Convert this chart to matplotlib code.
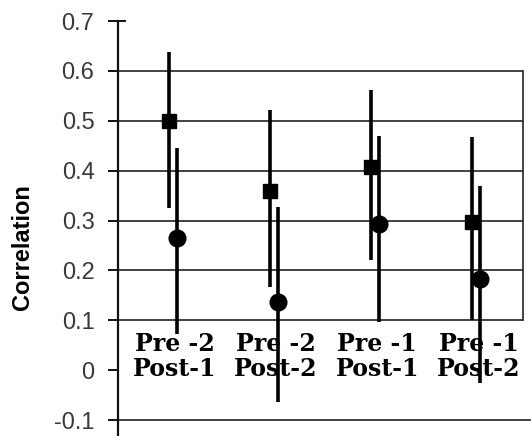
import matplotlib
matplotlib.use("Agg")
import matplotlib.pyplot as plt

# Data
categories = [("Pre -2", "Post-1"), ("Pre -2", "Post-2"), ("Pre -1", "Post-1"), ("Pre -1", "Post-2")]
sq_val = [0.50, 0.36, 0.407, 0.298]
sq_hi = [0.638, 0.522, 0.562, 0.468]
sq_lo = [0.326, 0.166, 0.22, 0.10]
ci_val = [0.265, 0.136, 0.294, 0.182]
ci_hi = [0.446, 0.328, 0.469, 0.37]
ci_lo = [0.072, -0.064, 0.096, -0.026]
yticks = [-0.1, 0, 0.1, 0.2, 0.3, 0.4, 0.5, 0.6, 0.7]
ytick_labels = ["-0.1", "0", "0.1", "0.2", "0.3", "0.4", "0.5", "0.6", "0.7"]
grid_vals = [0.1, 0.2, 0.3, 0.4, 0.5, 0.6]

W, H = 531, 436
fig = plt.figure(figsize=(W / 100, H / 100), dpi=100)
ax = fig.add_axes([118 / W, 0, 405 / W, 415 / H])
ax.set_xlim(0.5, 4.5)
ax.set_ylim(-0.132, 0.7)

for s in ["top", "right", "bottom"]:
    ax.spines[s].set_visible(False)
ax.spines["left"].set_linewidth(1.6)
ax.spines["left"].set_color("#111111")

ax.set_xticks([])
ax.set_yticks(yticks)
ax.set_yticklabels(ytick_labels, fontfamily="Liberation Sans", fontsize=17, color="#3a3a3a")
ax.tick_params(axis="y", direction="out", length=7, width=1.4, color="#111111", pad=10)

# gridlines
ax.hlines(grid_vals, 0.5, 4.5, color="#222222", linewidth=1.2, zorder=1)
ax.hlines([-0.1], 0.5, 4.5 + 8 / 101.25, color="#222222", linewidth=1.2, zorder=1, clip_on=False)
ax.plot([4.5, 4.5], [0.1, 0.6], color="#222222", linewidth=1.2, zorder=1, clip_on=False)
ax.plot([0.5, 0.5 + 7 / 101.25], [0.7, 0.7], color="#111111", linewidth=1.4, clip_on=False)

xs = [1, 2, 3, 4]
off = 0.08
# category labels
for i, (l1, l2) in enumerate(categories):
    ax.text(xs[i] + 0.06, 0.052, l1, ha="center", va="center", fontfamily="DejaVu Serif",
            fontweight="bold", fontsize=17, zorder=2)
    ax.text(xs[i] + 0.06, 0.003, l2, ha="center", va="center", fontfamily="DejaVu Serif",
            fontweight="bold", fontsize=17, zorder=2)

for i in range(4):
    ax.plot([xs[i], xs[i]], [sq_lo[i], sq_hi[i]], color="black", linewidth=2.6, zorder=3,
            solid_capstyle="butt", clip_on=False)
    ax.plot([xs[i] + off, xs[i] + off], [ci_lo[i], ci_hi[i]], color="black", linewidth=2.6,
            zorder=3, solid_capstyle="butt", clip_on=False)
ax.plot(xs, sq_val, linestyle="none", marker="s", markersize=10, color="black", zorder=4)
ax.plot([x + off for x in xs], ci_val, linestyle="none", marker="o", markersize=12,
        color="black", zorder=4)

fig.text(23 / W, 1 - 247 / H, "Correlation", rotation=90, ha="center", va="center",
         fontfamily="Liberation Sans", fontweight="bold", fontsize=17)

fig.savefig("out.png", dpi=100)
